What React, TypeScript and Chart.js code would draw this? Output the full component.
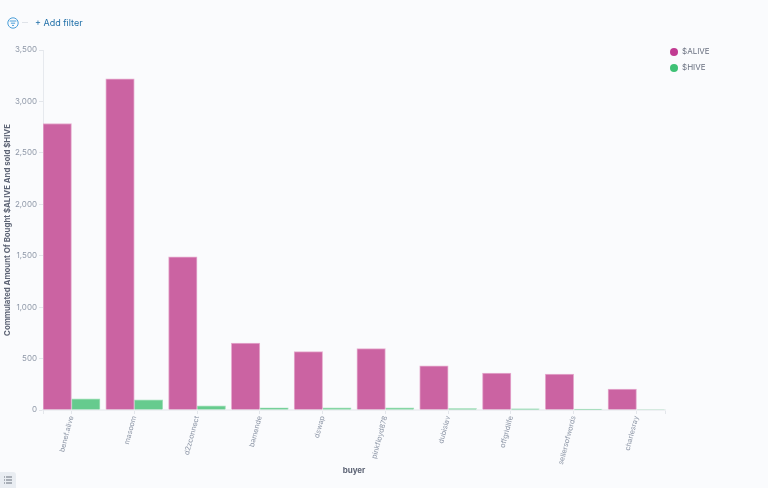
import React, { useEffect, useRef } from "react";
import { Chart, registerables } from "chart.js";

Chart.register(...registerables);

const buyers = ["benef.alive", "masoom", "d2zconnect", "bamende", "dswap", "pinkfloyd878", "dubislav", "offgridlife", "sellersofwords", "charlesray"];
const aliveValues = [2785, 3220, 1490, 650, 568, 597, 430, 360, 350, 203];
const hiveValues = [108, 100, 40, 22, 20, 20, 14, 12, 8, 5];
const yTicks = [0, 500, 1000, 1500, 2000, 2500, 3000, 3500];

const INK = "#8f98a8";
const TITLE = "#5d6475";
const FONT = "Inter, 'Noto Sans', sans-serif";

export default function App() {
  const ref = useRef<HTMLCanvasElement>(null);
  useEffect(() => {
    document.body.style.margin = "0";
    document.body.style.background = "#fafbfd";
    const chart = new Chart(ref.current!, {
      type: "bar",
      data: {
        datasets: [
          {
            label: "$ALIVE",
            data: aliveValues.map((y, x) => ({ x, y })),
            backgroundColor: "#cb63a2",
            borderColor: "#e6aed0",
            borderWidth: 1,
            barThickness: 28.5,
          },
          {
            label: "$HIVE",
            data: hiveValues.map((y, x) => ({ x, y })),
            backgroundColor: "#66cb8e",
            borderColor: "#a4e0bb",
            borderWidth: 1,
            barThickness: 28.5,
          },
        ],
      },
      options: {
        animation: false,
        responsive: false,
        layout: { padding: { top: 50, right: 102, left: 0, bottom: 0 } },
        plugins: {
          tooltip: { enabled: false },
          legend: {
            position: "right",
            align: "start",
            maxWidth: 1,
            labels: {
              usePointStyle: true,
              pointStyle: "circle",
              boxWidth: 8,
              boxHeight: 5.66,
              padding: 8,
              color: "#6a7180",
              font: { family: FONT, size: 8 },
              generateLabels: () => [
                { text: "$ALIVE", fillStyle: "#c13b92", strokeStyle: "#c13b92", fontColor: "#6a7180", lineWidth: 0, pointStyle: "circle", datasetIndex: 0 },
                { text: "$HIVE", fillStyle: "#3ec175", strokeStyle: "#3ec175", fontColor: "#6a7180", lineWidth: 0, pointStyle: "circle", datasetIndex: 1 },
              ],
            },
          },
        },
        scales: {
          x: {
            type: "linear",
            offset: false,
            min: -0.4538,
            max: 9.4538,
            afterBuildTicks: (s: any) => {
              s.ticks = [s.min, ...buyers.map((_, i) => i), s.max].map((value) => ({ value }));
            },
            afterFit: (s: any) => { s.height = 78; },
            border: { color: "#eef0f3", width: 2 },
            grid: { drawOnChartArea: false, offset: false, color: "#e3e6eb", tickLength: 4 },
            ticks: {
              autoSkip: false,
              minRotation: 75,
              maxRotation: 75,
              padding: 1,
              color: INK,
              font: { family: FONT, size: 7.2 },
              callback: (v: any) => (Number.isInteger(v) ? buyers[v] : ""),
            },
            title: {
              display: true,
              text: "buyer",
              color: TITLE,
              font: { family: FONT, size: 8, weight: "bold" },
              padding: { top: 0, bottom: 13 },
            },
          },
          y: {
            min: 0,
            max: 3500,
            afterBuildTicks: (s: any) => { s.ticks = yTicks.map((value) => ({ value })); },
            afterFit: (s: any) => { s.width = 43; },
            border: { color: "#e6e9ee", width: 1 },
            grid: { drawOnChartArea: false, color: "#e3e6eb", tickLength: 4 },
            ticks: {
              padding: 2,
              color: INK,
              font: { family: FONT, size: 8 },
              callback: (v: any) => Number(v).toLocaleString("en-US"),
            },
            title: {
              display: true,
              text: "Commulated Amount Of Bought $ALIVE And sold $HIVE",
              color: TITLE,
              font: { family: FONT, size: 7.8, weight: "bold" },
              padding: { top: 3, bottom: 0 },
            },
          },
        },
      },
      plugins: [
        {
          id: "legendPlace",
          afterLayout: (c: any) => {
            const l = c.legend;
            if (l) {
              l.left = 662;
              l.right = 768;
              l.top = 40;
              l.bottom = 100;
              l.width = 106;
              l.height = 60;
            }
          },
        },
      ],
    } as any);
    return () => chart.destroy();
  }, []);

  return (
    <div style={{ position: "relative", width: 768, height: 488, overflow: "hidden", background: "#fafbfd", fontFamily: FONT }}>
      <canvas ref={ref} width={768} height={488} style={{ position: "absolute", left: 0, top: 0, display: "block" }} />
      <svg width="14" height="14" viewBox="0 0 14 14" style={{ position: "absolute", left: 6, top: 16 }}>
        <circle cx="7" cy="7" r="5.2" fill="none" stroke="#4a9ed8" strokeWidth="1" />
        <path d="M3.6 5h6.8M4.9 7.2h4.2M6 9.4h2" stroke="#4a9ed8" strokeWidth="1" />
      </svg>
      <div style={{ position: "absolute", left: 22, top: 22, width: 6, height: 1, background: "#dfe3e9" }} />
      <div style={{ position: "absolute", left: 35, top: 16, fontSize: 9, lineHeight: "14px", color: "#1f6fa8" }}>+ Add filter</div>
      <div style={{ position: "absolute", left: 0, top: 472, width: 16, height: 16, background: "#e9edf2", borderRadius: "0 3px 0 0" }}>
        <svg width="16" height="16" viewBox="0 0 16 16">
          <path d="M4 5h1M6 5h6M4 8h1M6 8h6M4 11h1M6 11h6" stroke="#69707d" strokeWidth="1" />
        </svg>
      </div>
    </div>
  );
}
